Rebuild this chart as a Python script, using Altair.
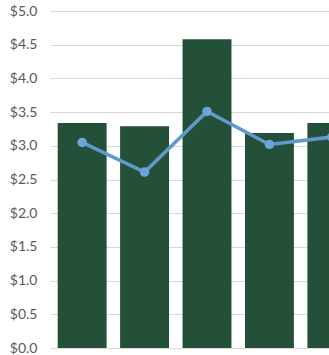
import altair as alt
import pandas as pd

categories = ["A", "B", "C", "D", "E"]
bar_values = [3.34, 3.29, 4.58, 3.19, 3.34]
line_values = [3.05, 2.61, 3.51, 3.02, 3.13]
tick_values = [0, 0.5, 1, 1.5, 2, 2.5, 3, 3.5, 4, 4.5, 5]

df = pd.DataFrame({"cat": categories, "bar": bar_values, "line": line_values})

x = alt.X("cat:N", sort=categories, axis=None,
          scale=alt.Scale(range=[0, 314], paddingInner=0.216, paddingOuter=0.123))
yscale = alt.Scale(domain=[0, 5], nice=False)
yaxis = alt.Axis(title=None, values=tick_values, tickCount=20, labelOverlap=False,
                 format="$.1f", domain=False, ticks=False,
                 labelPadding=13, labelFontSize=14, labelColor="#595959",
                 labelFont="Lato", gridColor="#d9d9d9", gridWidth=1)

bars = alt.Chart(df).mark_bar(color="#24503a").encode(
    x=x,
    y=alt.Y("bar:Q", scale=yscale, axis=yaxis),
)

line = alt.Chart(df).mark_line(color="#5f9acb", strokeWidth=3.5).encode(
    x=x, y=alt.Y("line:Q", scale=yscale, axis=yaxis)
)
pts = alt.Chart(df).mark_point(filled=True, color="#6aa6d8", size=90, opacity=1).encode(
    x=x, y=alt.Y("line:Q", scale=yscale, axis=yaxis)
)

chart = alt.layer(bars, line, pts).properties(
    width=279, height=337,
    padding={"left": 50, "top": 11, "right": 0, "bottom": 7},
    autosize=alt.AutoSizeParams(type="none"),
).configure_view(stroke=None)

chart.save("out.html", embed_options={"renderer": "svg", "actions": False})
